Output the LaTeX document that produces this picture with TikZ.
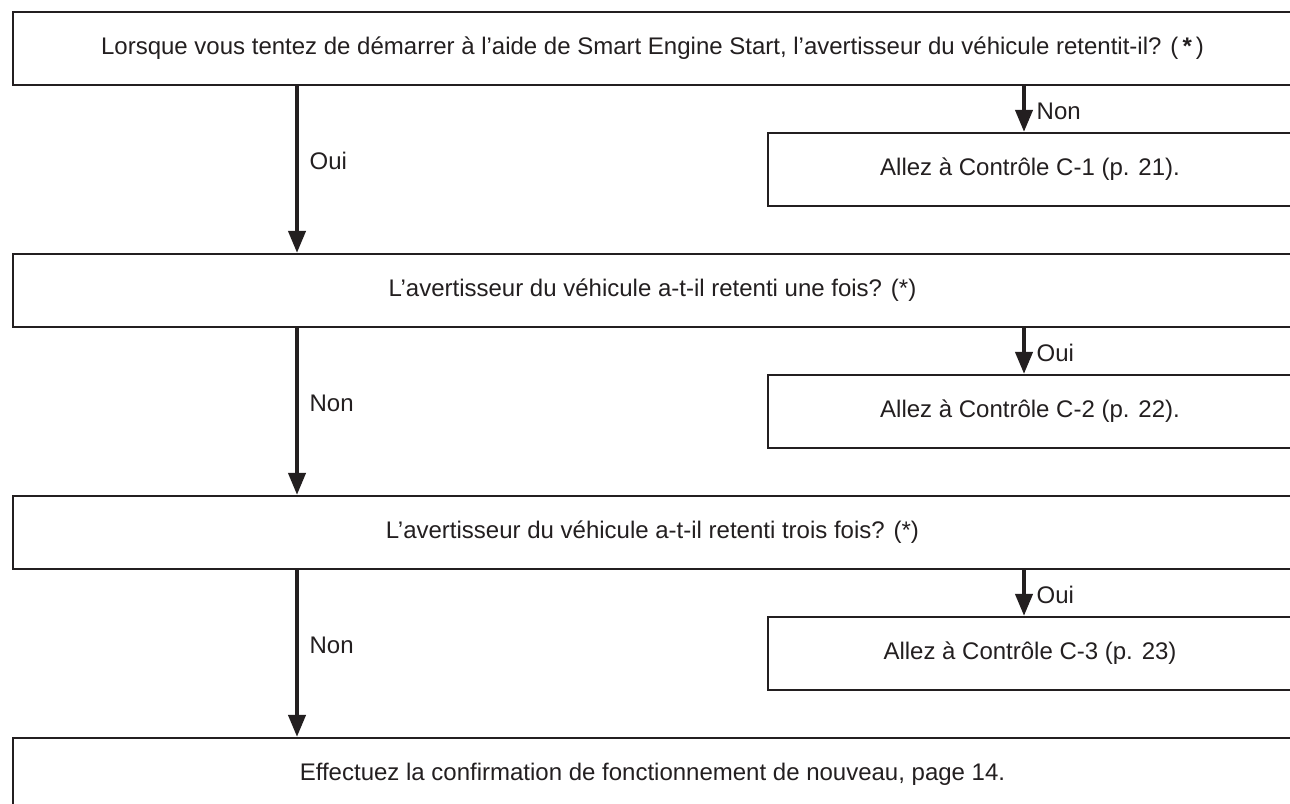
\documentclass[tikz,border=0pt]{standalone}
\usepackage{fontspec}
\setmainfont{Liberation Sans}
\usetikzlibrary{positioning,arrows.meta}
\definecolor{ink}{HTML}{231F20}

\begin{document}
\begin{tikzpicture}[x=0.5pt,y=-0.5pt,every node/.style={font=\fontsize{12}{14.5}\selectfont,text=ink},
  qbox/.style={draw=ink,line width=1.1pt,rectangle,minimum width=639.5pt,minimum height=36.5pt,inner sep=0pt},
  cbox/.style={qbox,minimum width=262pt},
  flow/.style={draw=ink,line width=2pt,-{Triangle[width=8.5pt,length=11pt]}}]
  \path[use as bounding box,fill=white] (0,0) rectangle (1290,803);
  \clip (0,0) rectangle (1290,803);
  % the two columns of arrows
  \coordinate (mainx) at (297,0);
  \coordinate (sidex) at (1024,0);
  % questions, left column
  \node[qbox] (horn) at (652.5,48.5) {Lorsque vous tentez de démarrer à l’aide de Smart Engine Start, l’avertisseur du véhicule retentit-il? (\,\textbf{*}\,)};
  \node[qbox] (once) at (652.5,290.5) {L’avertisseur du véhicule a-t-il retenti une fois? (*)};
  \node[qbox] (thrice) at (652.5,532.5) {L’avertisseur du véhicule a-t-il retenti trois fois? (*)};
  \node[qbox] (again) at (652.5,774.5) {Effectuez la confirmation de fonctionnement de nouveau, page 14.};
  % checks, right column
  \node[cbox] (chkA) at (1030,169.5) {Allez à Contrôle C-1 (p. 21).};
  \node[cbox] (chkB) at (1030,411.5) {Allez à Contrôle C-2 (p. 22).};
  \node[cbox] (chkC) at (1030,653.5) {Allez à Contrôle C-3 (p. 23)};
  % connectors
  \draw[flow] (horn.south -| mainx) -- node[right,xshift=2pt,pos=0.45]{Oui} (once.north -| mainx);
  \draw[flow] (once.south -| mainx) -- node[right,xshift=2pt,pos=0.45]{Non} (thrice.north -| mainx);
  \draw[flow] (thrice.south -| mainx) -- node[right,xshift=2pt,pos=0.45]{Non} (again.north -| mainx);
  \draw[flow] (horn.south -| sidex) -- node[right,xshift=2pt,yshift=-1pt]{Non} (chkA.north -| sidex);
  \draw[flow] (once.south -| sidex) -- node[right,xshift=2pt,yshift=-1pt]{Oui} (chkB.north -| sidex);
  \draw[flow] (thrice.south -| sidex) -- node[right,xshift=2pt,yshift=-1pt]{Oui} (chkC.north -| sidex);
\end{tikzpicture}
\end{document}
